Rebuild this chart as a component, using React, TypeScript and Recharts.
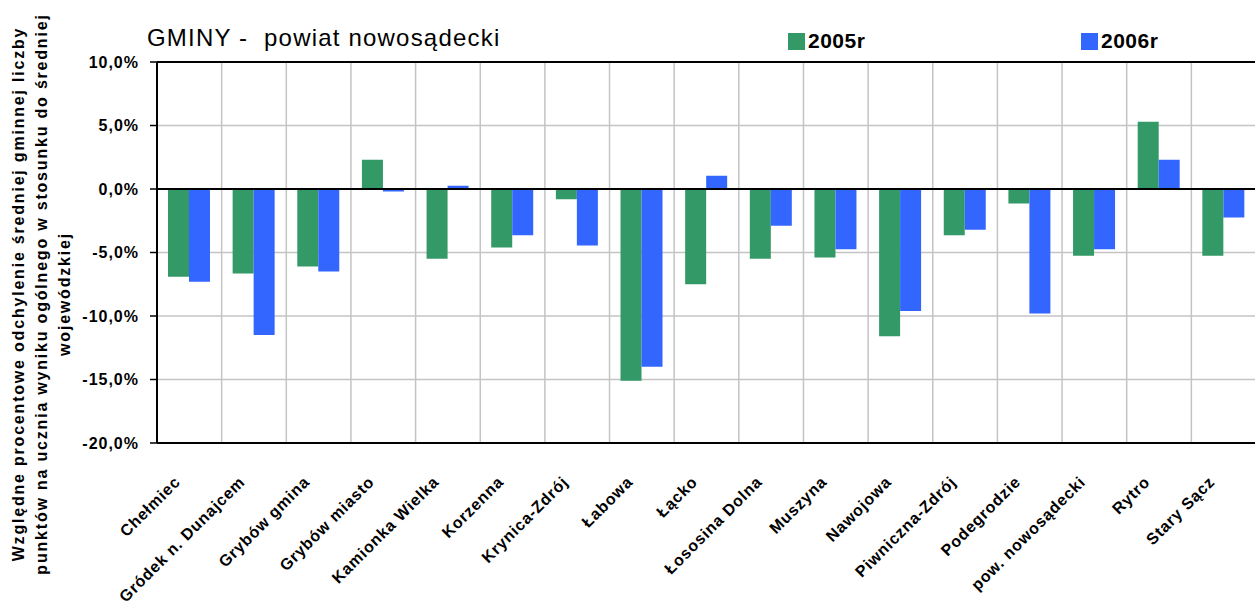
import { BarChart, Bar, XAxis, YAxis, CartesianGrid, ReferenceLine } from 'recharts'

const FONT = '"Liberation Sans", Arial, sans-serif'

const categories = [
  'Chełmiec',
  'Gródek n. Dunajcem',
  'Grybów gmina',
  'Grybów miasto',
  'Kamionka Wielka',
  'Korzenna',
  'Krynica-Zdrój',
  'Łabowa',
  'Łącko',
  'Łososina Dolna',
  'Muszyna',
  'Nawojowa',
  'Piwniczna-Zdrój',
  'Podegrodzie',
  'pow. nowosądecki',
  'Rytro',
  'Stary Sącz',
]
const values2005 = [-6.9, -6.65, -6.1, 2.3, -5.5, -4.6, -0.8, -15.1, -7.5, -5.5, -5.4, -11.6, -3.65, -1.15, -5.25, 5.3, -5.25]
const values2006 = [-7.3, -11.5, -6.5, -0.2, 0.25, -3.65, -4.45, -14.0, 1.05, -2.9, -4.75, -9.6, -3.2, -9.8, -4.75, 2.3, -2.25]
const yTicks = [-20, -15, -10, -5, 0, 5, 10]

const series = [
  { key: 'y2005', name: '2005r', color: '#339966', values: values2005 },
  { key: 'y2006', name: '2006r', color: '#3366FF', values: values2006 },
]

const data = categories.map((name, i) => ({
  name,
  y2005: values2005[i],
  y2006: values2006[i],
}))

const yLabelLines = [
  'Względne procentowe odchylenie średniej gminnej liczby',
  'punktów na ucznia wyniku ogólnego w stosunku do średniej',
  'wojewódzkiej',
]

const formatPct = (v: number) => `${v.toFixed(1).replace('.', ',')}%`

function CategoryTick(props: any) {
  const { x, y, payload } = props
  return (
    <g transform={`translate(${x - 8},${y + 40}) rotate(-45)`}>
      <text
        x={0}
        y={0}
        textAnchor="end"
        fontFamily={FONT}
        fontWeight="bold"
        fontSize={16}
        letterSpacing={0.8}
        fill="#000"
      >
        {payload.value}
      </text>
    </g>
  )
}

export default function App() {
  const legendX = [788, 1081]

  return (
    <div style={{ position: 'absolute', left: 0, top: 0, width: 1255, height: 601, overflow: 'hidden', background: '#fff' }}>
      <BarChart
        width={1260}
        height={601}
        data={data}
        margin={{ top: 62, right: 4, left: 0, bottom: 0 }}
        barCategoryGap="17%"
        barGap={0}
      >
        <CartesianGrid
          stroke="#c4c4c4"
          strokeWidth={1.5}
          verticalCoordinatesGenerator={({ offset }: any) =>
            Array.from({ length: categories.length + 1 }, (_, i) => offset.left + (i * offset.width) / categories.length)
          }
        />
        <XAxis
          dataKey="name"
          interval={0}
          height={158}
          tickLine={false}
          tickSize={0}
          tickMargin={0}
          axisLine={{ stroke: '#000', strokeWidth: 2 }}
          tick={<CategoryTick />}
        />
        <YAxis
          width={157}
          domain={[-20, 10]}
          ticks={yTicks}
          allowDataOverflow
          tickFormatter={formatPct}
          axisLine={{ stroke: '#000', strokeWidth: 2 }}
          tickLine={{ stroke: '#000', strokeWidth: 1.5 }}
          tickSize={7}
          tickMargin={11}
          tick={{ fontFamily: FONT, fontWeight: 'bold', fontSize: 16, letterSpacing: 1, fill: '#000' }}
          label={() => (
            <g>
              {yLabelLines.map((line, i) => (
                <text
                  key={i}
                  transform={`translate(${24 + i * 23},294) rotate(-90)`}
                  textAnchor="middle"
                  fontFamily={FONT}
                  fontWeight="bold"
                  fontSize={16}
                  letterSpacing={1.8}
                  fill="#000"
                >
                  {line}
                </text>
              ))}
            </g>
          )}
        />
        <ReferenceLine y={10} stroke="#000" strokeWidth={2} />
        <ReferenceLine y={0} stroke="#000" strokeWidth={2} />
        {series.map((s) => (
          <Bar key={s.key} dataKey={s.key} name={s.name} fill={s.color} isAnimationActive={false} />
        ))}
      </BarChart>

      <svg width={1255} height={60} style={{ position: 'absolute', left: 0, top: 0 }}>
        <text x={147} y={46} fontFamily={FONT} fontSize={24} letterSpacing={1.2} fill="#000" style={{ whiteSpace: 'pre' }}>
          {'GMINY -  powiat nowosądecki'}
        </text>
        {series.map((s, i) => (
          <g key={s.key}>
            <rect x={legendX[i]} y={33} width={17} height={17} fill={s.color} />
            <text x={legendX[i] + 20} y={48} fontFamily={FONT} fontWeight="bold" fontSize={21} letterSpacing={0.5} fill="#000">
              {s.name}
            </text>
          </g>
        ))}
      </svg>
    </div>
  )
}
